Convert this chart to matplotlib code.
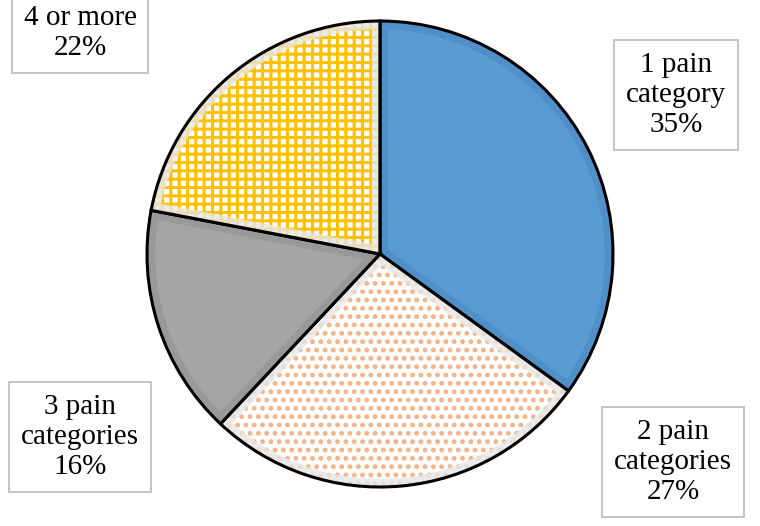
import matplotlib.pyplot as plt
from matplotlib.patches import Wedge

labels = ["1 pain\ncategory\n35%", "2 pain\ncategories\n27%", "3 pain\ncategories\n16%", "4 or more\n22%"]
shares = [35, 27, 16, 22]
face_colors = ["#5B9BD5", "#FFFFFF", "#A5A5A5", "#FFFFFF"]
hatch_colors = ["#5B9BD5", "#F4B183", "#A5A5A5", "#FFC000"]
hatches = [None, "..", None, "++"]
band_colors = ["#4F8DC6", "#E6E6E6", "#979797", "#E6E6E6"]

plt.rcParams["font.family"] = ["Liberation Serif", "DejaVu Serif"]
plt.rcParams["hatch.linewidth"] = 2.2

fig = plt.figure(figsize=(7.6, 5.26), dpi=100)
ax = fig.add_axes([0, 0, 1, 1])

center = (380, 272)
radius = 233

wedges, _ = ax.pie(shares, startangle=90, counterclock=False, center=center, radius=radius,
                   colors=face_colors, wedgeprops=dict(linewidth=0), frame=True)
ax.set_xlim(0, 760)
ax.set_ylim(0, 526)
ax.set_aspect("equal")
ax.axis("off")

for w, hc, h, bc in zip(wedges, hatch_colors, hatches, band_colors):
    w.set_edgecolor(hc)
    if h:
        w.set_hatch(h)
    # inner bevel band, clipped to the wedge
    band = Wedge(w.center, w.r, w.theta1, w.theta2, facecolor="none", edgecolor=bc, linewidth=12, alpha=0.8)
    ax.add_patch(band)
    band.set_clip_path(w)
    outline = Wedge(w.center, w.r, w.theta1, w.theta2, facecolor="none", edgecolor="black", linewidth=2.2)
    ax.add_patch(outline)

# label centres in pixel space (x, y from top)
label_pos = [(676, 95), (673, 462), (80, 437), (80, 33)]
box = dict(boxstyle="square,pad=0.4", facecolor="white", edgecolor="#BFBFBF", linewidth=1.3)
for lab, (px, py) in zip(labels, label_pos):
    ax.text(px, 526 - py, lab, ha="center", va="center", fontsize=21, linespacing=1.22, bbox=box)

fig.savefig("out.png", dpi=100)
